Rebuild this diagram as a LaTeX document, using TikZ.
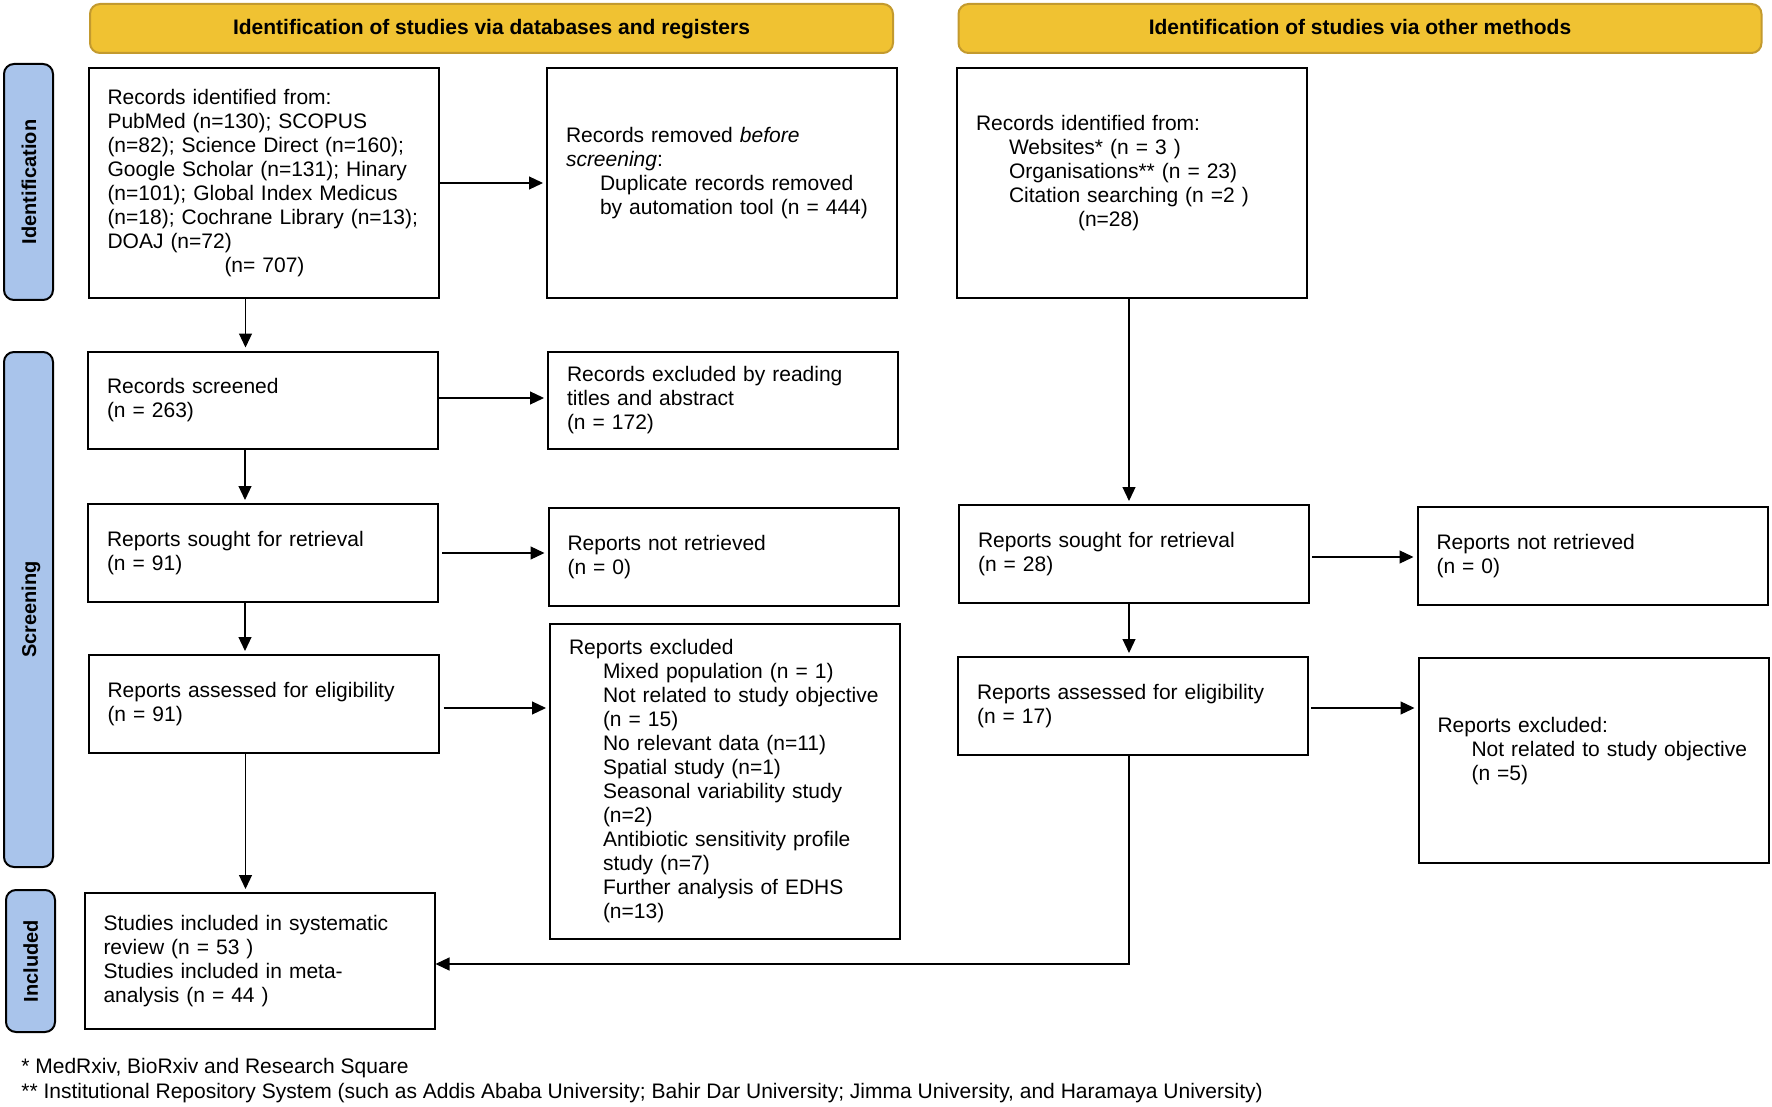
\documentclass[tikz,border=0pt]{standalone}
\usepackage{fontspec}
\setmainfont{Liberation Sans}
\usepackage{tikz}
\usetikzlibrary{calc}
\usetikzlibrary{positioning}
\usetikzlibrary{arrows.meta}
\definecolor{headGold}{HTML}{F0C232}
\definecolor{headEdge}{HTML}{C39A2E}
\definecolor{phaseBlue}{HTML}{A9C4EB}
\tikzset{
  prismaBox/.style={%
    rectangle, draw, line width=1pt, align=left,
    inner xsep=9.5pt, text width=156pt,
    font=\fontsize{10.5}{12}\selectfont,
  },
  headNode/.style={%
    rectangle, rounded corners=5pt, draw=headEdge, line width=1pt,
    fill=headGold, minimum width=401.5pt, minimum height=24.5pt,
    text height=7.8pt, text depth=2.2pt,
    font=\fontsize{10.5}{12}\selectfont\bfseries,
  },
  phaseNode/.style={%
    rectangle, rounded corners=5pt, draw, line width=1pt,
    fill=phaseBlue, minimum height=24.5pt, rotate=90,
    text height=7.5pt, text depth=0pt,
    font=\fontsize{10}{12}\selectfont\bfseries,
  },
  flowArrow/.style={%
    line width=0.6pt, -{Triangle[length=7pt,width=6.5pt]},
    shorten >=1.5pt,
  }
}

\begin{document}
\begin{tikzpicture}[x=0.5pt,y=-0.5pt]
  \useasboundingbox (0,0) rectangle (1772,1107);
  % headers and phases
  \node[headNode] (headDb) at (491.5,28.5)
    {Identification of studies via databases and registers};
  \node[headNode] (headOther) at (1360,28.5)
    {Identification of studies via other methods};
  \node[phaseNode, minimum width=118pt] (phaseId) at (28.5,182) {Identification};
  \node[phaseNode, minimum width=257.5pt] (phaseScr) at (28.5,609.5) {Screening};
  \node[phaseNode, minimum width=71pt] (phaseInc) at (30.5,961) {Included};

  % databases and registers
  \node[prismaBox, minimum height=115pt] (recId) at (263.5,183)
    {Records identified from:\\
     PubMed (n=130); SCOPUS\\
     (n=82); Science Direct (n=160);\\
     Google Scholar (n=131); Hinary\\
     (n=101); Global Index Medicus\\
     (n=18); Cochrane Library (n=13);\\
     DOAJ (n=72)\\
     \hspace{58.5pt}(n= 707)};
  \node[prismaBox, minimum height=115pt] (recRemoved) at (722,183)
    {Records removed \textit{before}\\
     \textit{screening}:\\
     \hspace{17pt}Duplicate records removed\\
     \hspace{17pt}by automation tool (n = 444)\\
     \mbox{}};
  \node[prismaBox, minimum height=48.5pt] (recScreened) at (263,400)
    {Records screened\\ (n = 263)};
  \node[prismaBox, minimum height=48.5pt] (recExcluded) at (723,400.5)
    {Records excluded by reading\\ titles and abstract\\ (n = 172)};
  \node[prismaBox, minimum height=49pt] (repSought) at (263,553)
    {Reports sought for retrieval\\ (n = 91)};
  \node[prismaBox, minimum height=49pt] (repNotRetr) at (723.5,557)
    {Reports not retrieved\\ (n = 0)};
  \node[prismaBox, minimum height=49pt] (repAssessed) at (263.5,704)
    {Reports assessed for eligibility\\ (n = 91)};
  \node[prismaBox, minimum height=157.5pt] (repExcluded) at (725,781.5)
    {Reports excluded\\
     \hspace{17pt}Mixed population (n = 1)\\
     \hspace{17pt}Not related to study objective\\
     \hspace{17pt}(n = 15)\\
     \hspace{17pt}No relevant data (n=11)\\
     \hspace{17pt}Spatial study (n=1)\\
     \hspace{17pt}Seasonal variability study\\
     \hspace{17pt}(n=2)\\
     \hspace{17pt}Antibiotic sensitivity profile\\
     \hspace{17pt}study (n=7)\\
     \hspace{17pt}Further analysis of EDHS\\
     \hspace{17pt}(n=13)};
  \node[prismaBox, minimum height=68pt] (studIncl) at (259.5,961)
    {Studies included in systematic\\
     review (n = 53 )\\
     Studies included in meta-\\
     analysis (n = 44 )};

  % other methods
  \node[prismaBox, minimum height=115pt] (recOther) at (1132,183)
    {Records identified from:\\
     \hspace{16.5pt}Websites* (n = 3 )\\
     \hspace{16.5pt}Organisations** (n = 23)\\
     \hspace{16.5pt}Citation searching (n =2 )\\
     \hspace{51pt}(n=28)\\
     \mbox{}};
  \node[prismaBox, minimum height=49pt] (repSoughtO) at (1134,554)
    {Reports sought for retrieval\\ (n = 28)};
  \node[prismaBox, minimum height=49pt] (repNotRetrO) at (1592.5,556)
    {Reports not retrieved\\ (n = 0)};
  \node[prismaBox, minimum height=49pt] (repAssessedO) at (1133,706)
    {Reports assessed for eligibility\\ (n = 17)};
  \node[prismaBox, minimum height=102.5pt] (repExcludedO) at (1593.5,760.5)
    {Reports excluded:\\
     \hspace{17pt}Not related to study objective\\
     \hspace{17pt}(n =5)\\
     \mbox{}};

  % notes
  \node[anchor=west, align=left, inner sep=0pt,
        font=\fontsize{10.5}{12.5}\selectfont] (notes) at (21,1080.5)
    {* MedRxiv, BioRxiv and Research Square\\
     ** Institutional Repository System (such as Addis Ababa University; Bahir Dar University; Jimma University, and Haramaya University)};

  % arrows
  \draw[flowArrow] ([xshift=-9pt]recId.south)
    -- ([xshift=-9pt]recId.south |- recScreened.north);
  \draw[flowArrow] ([xshift=-9pt]recScreened.south)
    -- ([xshift=-9pt]recScreened.south |- repSought.north);
  \draw[flowArrow] ([xshift=-9pt]repSought.south)
    -- ([xshift=-9pt]repSought.south |- repAssessed.north);
  \draw[flowArrow] ([xshift=-9pt]repAssessed.south)
    -- ([xshift=-9pt]repAssessed.south |- studIncl.north);
  \draw[flowArrow] (recId.east) -- (recId.east -| recRemoved.west);
  \draw[flowArrow] ([yshift=1pt]recScreened.east)
    -- ([yshift=1pt]recScreened.east -| recExcluded.west);
  \draw[flowArrow] ([xshift=1.5pt]repSought.east)
    -- (repSought.east -| repNotRetr.west);
  \draw[flowArrow] ([xshift=2pt,yshift=-2pt]repAssessed.east)
    -- ([yshift=-2pt]repAssessed.east -| repExcluded.west);
  \draw[flowArrow] ([xshift=-1.5pt]recOther.south)
    -- ([xshift=-1.5pt]recOther.south |- repSoughtO.north);
  \draw[flowArrow] ([xshift=-2.5pt]repSoughtO.south)
    -- ([xshift=-2.5pt]repSoughtO.south |- repAssessedO.north);
  \draw[flowArrow] ([xshift=1pt,yshift=-1.5pt]repSoughtO.east)
    -- ([yshift=-1.5pt]repSoughtO.east -| repNotRetrO.west);
  \draw[flowArrow] ([xshift=1pt,yshift=-1pt]repAssessedO.east)
    -- ([yshift=-1pt]repAssessedO.east -| repExcludedO.west);
  \draw[flowArrow, shorten >=0pt] ([xshift=-2pt]repAssessedO.south)
    |- ([yshift=-1.5pt]studIncl.east);
\end{tikzpicture}
\end{document}
